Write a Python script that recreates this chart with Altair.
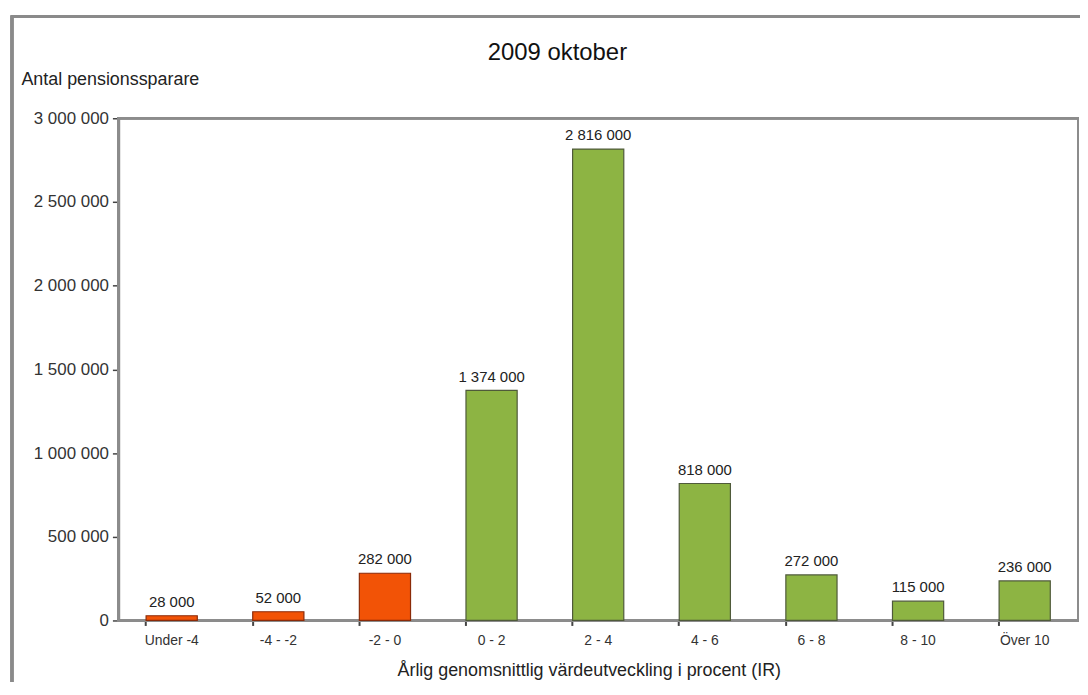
import altair as alt
import pandas as pd

categories = ["Under -4", "-4 - -2", "-2 - 0", "0 - 2", "2 - 4", "4 - 6", "6 - 8", "8 - 10", "Över 10"]
values = [28000, 52000, 282000, 1374000, 2816000, 818000, 272000, 115000, 236000]
signs = ["neg", "neg", "neg", "pos", "pos", "pos", "pos", "pos", "pos"]
y_ticks = [0, 500000, 1000000, 1500000, 2000000, 2500000, 3000000]

df = pd.DataFrame({"kat": categories, "antal": values, "sign": signs})

FONT = "Liberation Sans"
W, H = 965, 505

base = alt.Chart(df)

xenc = alt.X(
    "kat:N", sort=categories,
    scale=alt.Scale(paddingInner=0.52, paddingOuter=0.26),
    axis=alt.Axis(
        title="Årlig genomsnittlig värdeutveckling i procent (IR)",
        titleFontSize=18, titleFont=FONT, titleFontWeight="normal", titleColor="#222",
        titleX=473, titleY=55, titleBaseline="alphabetic", titleAnchor="middle",
        labelAngle=0, labelFontSize=14, labelFont=FONT, labelColor="#333", labelPadding=8,
        bandPosition=0, labelOffset=0,
        tickColor="#444", tickSize=5, tickWidth=2,
        domainColor="#444", domainWidth=2,
    ),
)

yenc = alt.Y(
    "antal:Q",
    scale=alt.Scale(domain=[0, 3000000], nice=False),
    axis=alt.Axis(
        title="Antal pensionssparare",
        titleFontSize=18, titleFont=FONT, titleFontWeight="normal", titleColor="#222",
        titleAngle=0, titleX=-98, titleY=-34, titleAlign="left", titleBaseline="alphabetic",
        values=y_ticks,
        labelExpr="replace(format(datum.value, ','), /,/g, ' ')",
        labelFontSize=17, labelFont=FONT, labelColor="#333", labelPadding=4,
        tickColor="#444", tickSize=6, tickWidth=1.5,
        domainColor="#333", domainWidth=2.5, grid=False,
    ),
)

bars = base.mark_bar(strokeWidth=1.2).encode(
    x=xenc,
    y=yenc,
    color=alt.Color("sign:N", scale=alt.Scale(domain=["neg", "pos"], range=["#F25306", "#8DB443"]), legend=None),
    stroke=alt.Stroke("sign:N", scale=alt.Scale(domain=["neg", "pos"], range=["#8A2A08", "#4F5A3A"]), legend=None),
)

labels = base.transform_calculate(
    lbl="replace(format(datum.antal, ','), /,/g, ' ')"
).mark_text(
    font=FONT, fontSize=15, color="#222", baseline="alphabetic", dy=-9
).encode(
    x=alt.X("kat:N", sort=categories),
    y=alt.Y("antal:Q"),
    text="lbl:N",
)

frame = base.mark_rect(filled=False, stroke="#8a8a8a", strokeWidth=2.5, fill=None).encode(
    x=alt.value(-107), x2=alt.value(1000),
    y=alt.value(-102), y2=alt.value(620),
)

plot_border = base.mark_rect(filled=False, stroke="#8c8c8c", strokeWidth=2, fill=None).encode(
    x=alt.value(0), x2=alt.value(W),
    y=alt.value(0), y2=alt.value(H),
)

chart = alt.layer(frame, plot_border, bars, labels).properties(
    width=W, height=H,
    autosize=alt.AutoSizeParams(type="none"),
    padding={"left": 111, "top": 109, "right": 2, "bottom": 60},
    title=alt.TitleParams(
        "2009 oktober", font=FONT, fontSize=24, fontWeight="normal", color="#111",
        anchor="middle", dx=-41, dy=73, baseline="alphabetic",
    ),
).configure_view(stroke=None).configure(background="white")

chart.save("out.html", embed_options={"renderer": "svg", "actions": False})
